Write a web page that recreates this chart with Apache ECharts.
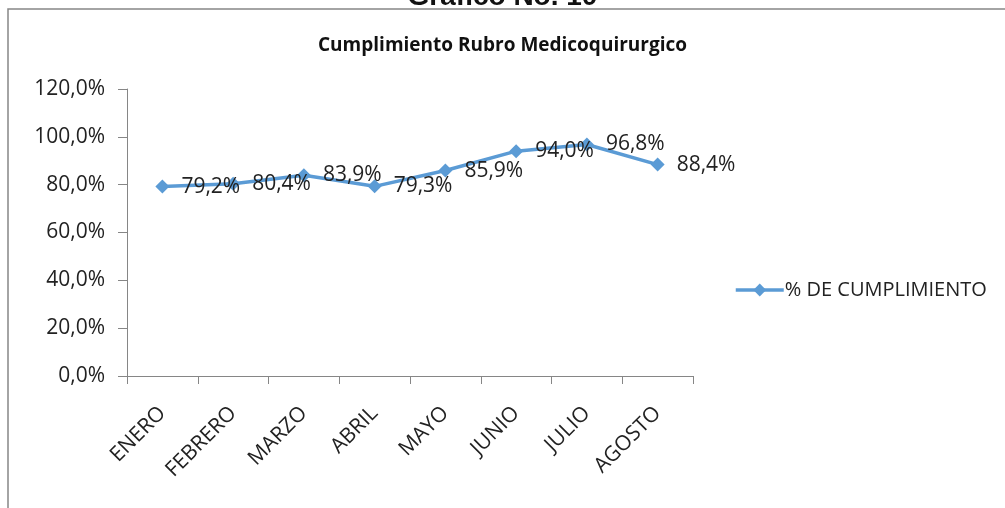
<!DOCTYPE html>
<html>
<head>
<meta charset="utf-8">
<script src="https://cdn.jsdelivr.net/npm/echarts@6/dist/echarts.min.js"></script>
<style>
  html, body { margin: 0; padding: 0; background: #fff; }
  #chart { width: 1005px; height: 508px; }
</style>
</head>
<body>
<div id="chart"></div>
<script>
// data
const months = ['ENERO', 'FEBRERO', 'MARZO', 'ABRIL', 'MAYO', 'JUNIO', 'JULIO', 'AGOSTO']
const cumplimiento = [79.2, 80.4, 83.9, 79.3, 85.9, 94.0, 96.8, 88.4]
const yTicks = [0, 20, 40, 60, 80, 100, 120]

const pct = v => v.toFixed(1).replace('.', ',') + '%'
const font = '"Open Sans", "Noto Sans", sans-serif'

const chart = echarts.init(document.getElementById('chart'))
chart.setOption({
  animation: false,
  textStyle: { fontFamily: font, color: '#222' },
  graphic: [
    {
      type: 'rect',
      shape: { x: 8, y: 9, width: 1010, height: 510 },
      style: { fill: 'none', stroke: '#868686', lineWidth: 1.5 }
    },
    {
      type: 'text',
      left: 'center',
      top: -17,
      style: { text: 'Gráfico No. 10', font: 'bold 28px "Liberation Sans", Arial, sans-serif', fill: '#111' }
    }
  ],
  title: {
    text: 'Cumplimiento Rubro Medicoquirurgico',
    left: 'center',
    top: 31,
    textStyle: { fontFamily: font, fontSize: 19, fontWeight: 'bold', color: '#111' }
  },
  legend: {
    data: ['% DE CUMPLIMIENTO'],
    left: 729,
    top: 275,
    itemWidth: 48,
    itemHeight: 16,
    itemGap: 4,
    lineStyle: { width: 3.5 },
    textStyle: { fontFamily: font, fontSize: 20, color: '#222', padding: [0, 0, 0, -4] }
  },
  grid: { left: 127, right: 312, top: 89, bottom: 132 },
  xAxis: {
    type: 'category',
    data: months,
    boundaryGap: true,
    axisLine: { lineStyle: { color: '#868686', width: 1 } },
    axisTick: { show: true, length: 8, lineStyle: { color: '#868686' } },
    axisLabel: { rotate: 45, margin: 34, fontSize: 21, color: '#222', interval: 0 }
  },
  yAxis: {
    type: 'value',
    min: yTicks[0],
    max: yTicks[yTicks.length - 1],
    interval: yTicks[1] - yTicks[0],
    splitLine: { show: false },
    axisLine: { show: true, lineStyle: { color: '#868686', width: 1 } },
    axisTick: { show: true, length: 9, lineStyle: { color: '#868686' } },
    axisLabel: { margin: 22, fontSize: 21, color: '#222', formatter: pct }
  },
  series: [
    {
      name: '% DE CUMPLIMIENTO',
      type: 'line',
      data: cumplimiento,
      symbol: 'diamond',
      symbolSize: 14,
      lineStyle: { color: '#5B9BD5', width: 3.5 },
      itemStyle: { color: '#5B9BD5' },
      label: {
        show: true,
        position: 'right',
        distance: 12,
        fontSize: 21,
        color: '#222',
        formatter: p => pct(p.value)
      }
    }
  ]
})
</script>
</body>
</html>
